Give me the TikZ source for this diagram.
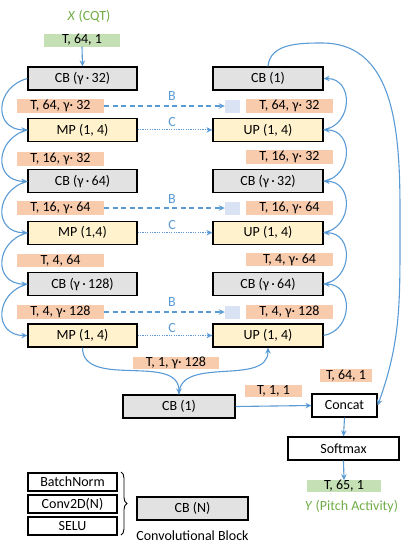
\documentclass[tikz,border=0pt]{standalone}
\usepackage{fontspec}
\setmainfont{Carlito}
\usetikzlibrary{arrows.meta,decorations.pathreplacing}
\definecolor{cgrey}{RGB}{226,226,226}
\definecolor{cyell}{RGB}{255,242,204}
\definecolor{csalm}{RGB}{248,203,173}
\definecolor{cgreen}{RGB}{197,224,180}
\definecolor{cblue}{RGB}{91,155,213}
\definecolor{clblue}{RGB}{218,227,243}
\definecolor{cgtext}{RGB}{112,173,71}
\begin{document}
\begin{tikzpicture}[x=1pt,y=-1pt,font=\fontsize{14}{16}\selectfont,
  box/.style={draw=black,line width=1.2pt,minimum height=23pt,inner sep=0pt},
  gbox/.style={box,fill=cgrey,minimum width=109pt},
  ybox/.style={box,fill=cyell,minimum width=109pt},
  wbox/.style={box,fill=white},
  lab/.style={fill=csalm,minimum width=87pt,minimum height=13.5pt,inner sep=0pt},
  glab/.style={fill=cgreen,inner sep=0pt},
  sq/.style={fill=clblue,minimum width=15pt,minimum height=13pt,inner sep=0pt},
  legbox/.style={draw=black,line width=1.2pt,fill=white,minimum width=89pt,minimum height=18pt,inner sep=0pt},
  bl/.style={draw=cblue,line width=1.1pt,-{Stealth[length=6pt,width=5.5pt]}},
  bt/.style={text=cblue},
  gt/.style={text=cgtext}]
\useasboundingbox (0,0) rectangle (410,550);

% input
\node[gt] (xin) at (89,16) {\textit{X} (CQT)};
\node[glab,minimum width=76pt,minimum height=13pt] (gin) at (82,40) {T, 64, 1};

% left column
\node[gbox] (cbl1) at (82.5,78.5) {CB (γ\,·\,32)};
\node[ybox] (mpl1) at (82.5,129.9) {MP (1, 4)};
\node[gbox] (cbl2) at (82.5,181.3) {CB (γ\,·\,64)};
\node[ybox] (mpl2) at (82.5,232.7) {MP (1,4)};
\node[gbox] (cbl3) at (82.5,284.1) {CB (γ\,·\,128)};
\node[ybox] (mpl3) at (82.5,335.5) {MP (1, 4)};

\node[lab] (l1) at (60.5,106) {T, 64, γ·\ 32};
\node[lab] (l2) at (60.5,159) {T, 16, γ·\ 32};
\node[lab] (l3) at (60.5,208) {T, 16, γ·\ 64};
\node[lab] (l4) at (60.5,260.5) {T, 4, 64};
\node[lab] (l5) at (60.5,312) {T, 4, γ·\ 128};

% right column
\node[gbox,minimum width=110pt] (cbr1) at (268,78.5) {CB (1)};
\node[ybox,minimum width=110pt] (upr1) at (268,129.9) {UP (1, 4)};
\node[gbox,minimum width=110pt] (cbr2) at (268,181.3) {CB (γ\,·\,32)};
\node[ybox,minimum width=110pt] (upr2) at (268,232.7) {UP (1, 4)};
\node[gbox,minimum width=110pt] (cbr3) at (268,284.1) {CB (γ\,·\,64)};
\node[ybox,minimum width=110pt] (upr3) at (268,335.5) {UP (1, 4)};

\node[sq] (sq1) at (232.5,106) {};
\node[sq] (sq3) at (232.5,208) {};
\node[sq] (sq5) at (232.5,312) {};
\node[lab] (r1) at (289.5,106) {T, 64, γ·\ 32};
\node[lab] (r2) at (289.5,157) {T, 16, γ·\ 32};
\node[lab] (r3) at (289.5,208) {T, 16, γ·\ 64};
\node[lab] (r4) at (289.5,259.5) {T, 4, γ·\ 64};
\node[lab] (r5) at (289.5,312) {T, 4, γ·\ 128};

% skip connections
\node[bt] (b1) at (172,96) {B};
\node[bt] (b2) at (172,199) {B};
\node[bt] (b3) at (172,302) {B};
\node[bt] (c1) at (172,122) {C};
\node[bt] (c2) at (172,225) {C};
\node[bt] (c3) at (172,328) {C};
\draw[bl,dash pattern=on 5pt off 3.5pt] (l1.east) -- (sq1.west);
\draw[bl,dash pattern=on 5pt off 3.5pt] (l3.east) -- (sq3.west);
\draw[bl,dash pattern=on 5pt off 3.5pt] (l5.east) -- (sq5.west);
\draw[bl,line width=1pt,dash pattern=on 1.2pt off 1.2pt] (mpl1.east) -- (upr1.west);
\draw[bl,line width=1pt,dash pattern=on 1.2pt off 1.2pt] (mpl2.east) -- (upr2.west);
\draw[bl,line width=1pt,dash pattern=on 1.2pt off 1.2pt] (mpl3.east) -- (upr3.west);

% bottom part
\node[lab,minimum width=86pt,minimum height=12.5pt] (lb) at (176,363) {T, 1, γ·\ 128};
\node[gbox,minimum width=112pt] (cbb) at (179,406.5) {CB (1)};
\node[lab,minimum width=57pt,minimum height=12.5pt] (l11) at (273.5,391) {T, 1, 1};
\node[lab,minimum width=52pt,minimum height=12.5pt] (l641) at (346,375.5) {T, 64, 1};
\node[wbox,minimum width=65pt] (concat) at (344.5,405.5) {Concat};
\node[wbox,minimum width=111pt] (soft) at (343.5,448.5) {Softmax};
\node[glab,minimum width=74pt,minimum height=11pt] (gout) at (344,486) {T, 65, 1};
\node[gt] (yout) at (351.5,507) {\textit{Y} (Pitch Activity)};

% connectors
\draw[bl] (gin.south) -- (cbl1.north);
\draw[bl] (cbl1.west) to[out=195,in=180,looseness=1.7] (mpl1.west);
\draw[bl] (mpl1.west) to[out=195,in=180,looseness=1.7] (cbl2.west);
\draw[bl] (cbl2.west) to[out=195,in=180,looseness=1.7] (mpl2.west);
\draw[bl] (mpl2.west) to[out=195,in=180,looseness=1.7] (cbl3.west);
\draw[bl] (cbl3.west) to[out=195,in=180,looseness=1.7] (mpl3.west);

\draw[bl] (upr1.east) to[out=10,in=0,looseness=1.5] (cbr1.east);
\draw[bl] (cbr2.east) to[out=10,in=0,looseness=1.5] (upr1.east);
\draw[bl] (upr2.east) to[out=10,in=0,looseness=1.5] (cbr2.east);
\draw[bl] (cbr3.east) to[out=10,in=0,looseness=1.5] (upr2.east);
\draw[bl] (upr3.east) to[out=10,in=0,looseness=1.5] (cbr3.east);

\draw[bl] (mpl3.south) to[out=-90,in=90] (cbb.north);
\draw[bl] (cbb.north) to[out=90,in=-90] (upr3.south);
\draw[bl] (cbb.east) -- (concat.west);
\draw[bl] (concat.south) -- (soft.north);
\draw[bl] (soft.south) -- (gout.north);

\coordinate (pk) at (322,43);
\coordinate (arcr) at (400,237);
\draw[bl] (cbr1.north) to[out=85,in=180] (pk) to[out=0,in=90] (arcr) to[out=-90,in=70] (concat.east);

% legend
\node[legbox] (bn) at (72.5,482) {BatchNorm};
\node[legbox] (cv) at (72.5,504) {Conv2D(N)};
\node[legbox] (se) at (72.5,526) {SELU};
\coordinate (brt) at (121,472);
\coordinate (brb) at (121,535);
\draw[line width=0.9pt,decorate,decoration={brace,amplitude=6pt}] (brt) -- (brb);
\node[gbox,minimum width=111pt] (cbn) at (192.5,508.5) {CB (N)};
\node (cbt) at (192.5,536) {Convolutional Block};
\end{tikzpicture}
\end{document}
